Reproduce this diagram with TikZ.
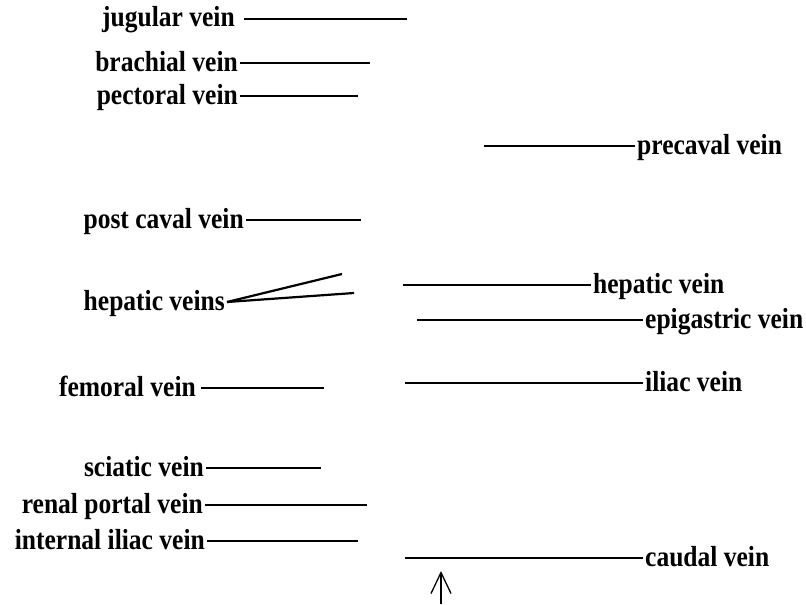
\documentclass[tikz,border=0pt]{standalone}
\usepackage{fontspec}
\usetikzlibrary{arrows.meta}
\newfontfamily\veinfont[FakeStretch=0.88]{Liberation Serif}
\tikzset{
  lab/.style={font=\veinfont\bfseries\fontsize{29}{29}\selectfont, inner sep=2pt,
    text height=21pt, text depth=5pt},
  vline/.style={line width=2.2pt}
}

\begin{document}
\begin{tikzpicture}[x=1pt,y=-1pt]
\useasboundingbox (0,0) rectangle (806,605);
% labels on the left
\node[lab,anchor=east] (jug) at (237,19) {jugular vein};
\node[lab,anchor=east] (brach) at (240,63) {brachial vein};
\node[lab,anchor=east] (pect) at (240,96) {pectoral vein};
\node[lab,anchor=east] (postcav) at (246,220) {post caval vein};
\node[lab,anchor=east] (hepvs) at (227,302) {hepatic veins};
\node[lab,anchor=east] (fem) at (198,388) {femoral vein};
\node[lab,anchor=east] (sciat) at (206,468) {sciatic vein};
\node[lab,anchor=east] (renal) at (205,505) {renal portal vein};
\node[lab,anchor=east] (intil) at (207,541) {internal iliac vein};
% labels on the right
\node[lab,anchor=west] (precav) at (635,146) {precaval vein};
\node[lab,anchor=west] (hepv) at (591,285) {hepatic vein};
\node[lab,anchor=west] (epig) at (643,320) {epigastric vein};
\node[lab,anchor=west] (iliac) at (643,383) {iliac vein};
\node[lab,anchor=west] (caud) at (643,558) {caudal vein};
% free ends of the pointer lines
\coordinate (jugE) at (407,19);
\coordinate (brachE) at (370,63);
\coordinate (pectE) at (358,96);
\coordinate (postcavE) at (361,220);
\coordinate (hepvsA) at (342,274);
\coordinate (hepvsB) at (354,293);
\coordinate (femE) at (324,388);
\coordinate (sciatE) at (321,468);
\coordinate (renalE) at (367,505);
\coordinate (intilE) at (358,541);
\coordinate (precavE) at (484,146);
\coordinate (hepvE) at (403,285);
\coordinate (epigE) at (417,320);
\coordinate (iliacE) at (405,383);
\coordinate (caudE) at (405,558);
% pointer lines
\draw[vline] ([xshift=7pt]jug.east) -- (jugE);
\draw[vline] (brach.east) -- (brachE);
\draw[vline] (pect.east) -- (pectE);
\draw[vline] (postcav.east) -- (postcavE);
\draw[vline] (hepvs.east) -- (hepvsA);
\draw[vline] (hepvs.east) -- (hepvsB);
\draw[vline] ([xshift=3pt]fem.east) -- (femE);
\draw[vline] (sciat.east) -- (sciatE);
\draw[vline] (renal.east) -- (renalE);
\draw[vline] (intil.east) -- (intilE);
\draw[vline] (precav.west) -- (precavE);
\draw[vline] (hepv.west) -- (hepvE);
\draw[vline] (epig.west) -- (epigE);
\draw[vline] (iliac.west) -- (iliacE);
\draw[vline] (caud.west) -- (caudE);
% arrow at the bottom
\coordinate (tail) at (441,604);
\coordinate (tip) at (441,571);
\draw[line width=1.3pt,-{Straight Barb[length=21pt,width=20pt]}] (tail) -- (tip);
\end{tikzpicture}
\end{document}
